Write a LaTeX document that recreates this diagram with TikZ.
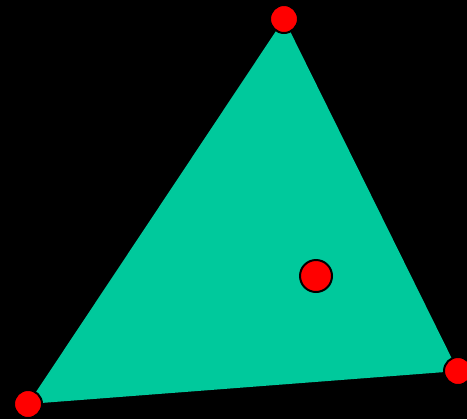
\documentclass[tikz,border=0pt]{standalone}
\usepackage{tikz}
\definecolor{tealgreen}{HTML}{00C99C}

\begin{document}
\begin{tikzpicture}[line cap=round,line join=round,x=0.75pt,y=-0.75pt,
		dot/.style={circle, draw=black, fill=red, line width=1.5pt, inner sep=0pt, minimum size=21pt}]
				% Fond
				\fill[black] (0,0) rectangle (467,419);
				\useasboundingbox (0,0) rectangle (467,419);
				% Sommets
				\coordinate (A) at (284,19);
				\coordinate (B) at (28,404);
				\coordinate (C) at (458,371);
				\coordinate (P) at (316,276);
				% Triangle
				\fill[tealgreen] (A)--(B)--(C)--cycle;
				% Points
				\node[dot] (a) at (A) {};
				\node[dot] (b) at (B) {};
				\node[dot] (c) at (C) {};
				\node[dot, minimum size=24pt] (p) at (P) {};
		\end{tikzpicture}
\end{document}
